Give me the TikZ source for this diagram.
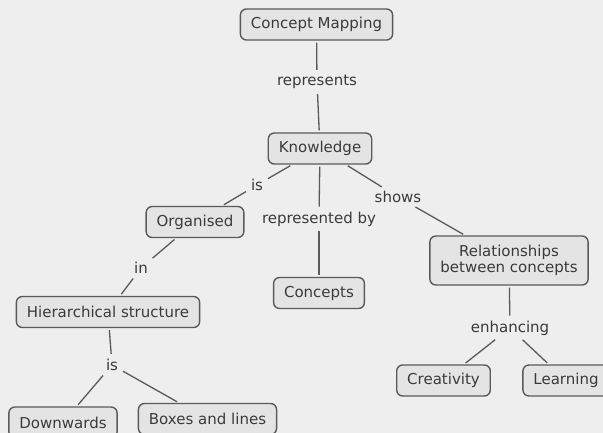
\documentclass[tikz,border=0pt]{standalone}
\usepackage{fontspec}
\setmainfont{DejaVu Sans}
\usepackage{xcolor}
\usetikzlibrary{positioning}
\usetikzlibrary{arrows.meta}

\definecolor{bgcol}{HTML}{EEEEEE}
\definecolor{boxcol}{HTML}{E4E4E4}
\definecolor{edgecol}{HTML}{5A5A5A}
\definecolor{txtcol}{HTML}{3A3A3A}

\tikzset{
    concept/.style={draw=edgecol, fill=boxcol, rounded corners=6pt, line width=1.4pt,
        text=txtcol, minimum height=31pt, inner xsep=10.5pt, align=center,
        font=\fontsize{15}{16}\selectfont},
    linkword/.style={text=txtcol, inner sep=3pt, font=\fontsize{15}{16}\selectfont},
    conn/.style={draw=edgecol, line width=1.3pt, shorten <=2pt, shorten >=2pt}
}

\begin{document}
\begin{tikzpicture}[x=1pt, y=-1pt]
        \useasboundingbox (0,0) rectangle (603,433);
        \clip (0,0) rectangle (603,433);
        \fill[bgcol] (0,0) rectangle (603,433);
        % nodes
        \node[concept] (cm) at (316.5,24.5) {Concept Mapping};
        \node[concept] (know) at (320,148.5) {Knowledge};
        \node[concept] (org) at (195,222) {Organised};
        \node[concept] (concepts) at (319,293) {Concepts};
        \node[concept, minimum height=49pt] (rel) at (509,260.5) {Relationships\\between concepts};
        \node[concept] (hier) at (108,312) {Hierarchical structure};
        \node[concept] (creat) at (443.5,380.5) {Creativity};
        \node[concept] (learn) at (566,380.5) {Learning};
        \node[concept] (down) at (63,422.5) {Downwards};
        \node[concept] (boxes) at (207.5,419) {Boxes and lines};
        % linking words
        \node[linkword] (represents) at (317,82) {represents};
        \node[linkword] (is) at (257,185) {is};
        \node[linkword] (repby) at (319,219) {represented by};
        \node[linkword] (shows) at (398,197) {shows};
        \node[linkword] (in) at (141,268) {in};
        \node[linkword] (isb) at (112,365) {is};
        \node[linkword] (enh) at (510,328) {enhancing};
        % lines
        \draw[conn] (cm) -- (represents);
        \draw[conn] (represents) -- (know);
        \draw[conn] (know) -- (is);
        \draw[conn] (is) -- (org);
        \draw[conn] (know) -- (repby);
        \draw[conn] (repby) -- (concepts);
        \draw[conn] (know) -- (shows);
        \draw[conn] (shows) -- (rel);
        \draw[conn] (org) -- (in);
        \draw[conn] (in) -- (hier);
        \draw[conn] (hier) -- (isb);
        \draw[conn] (isb) -- (down);
        \draw[conn] (isb) -- (boxes);
        \draw[conn] (rel) -- (enh);
        \draw[conn] (enh) -- (creat);
        \draw[conn] (enh) -- (learn);
    \end{tikzpicture}
\end{document}
